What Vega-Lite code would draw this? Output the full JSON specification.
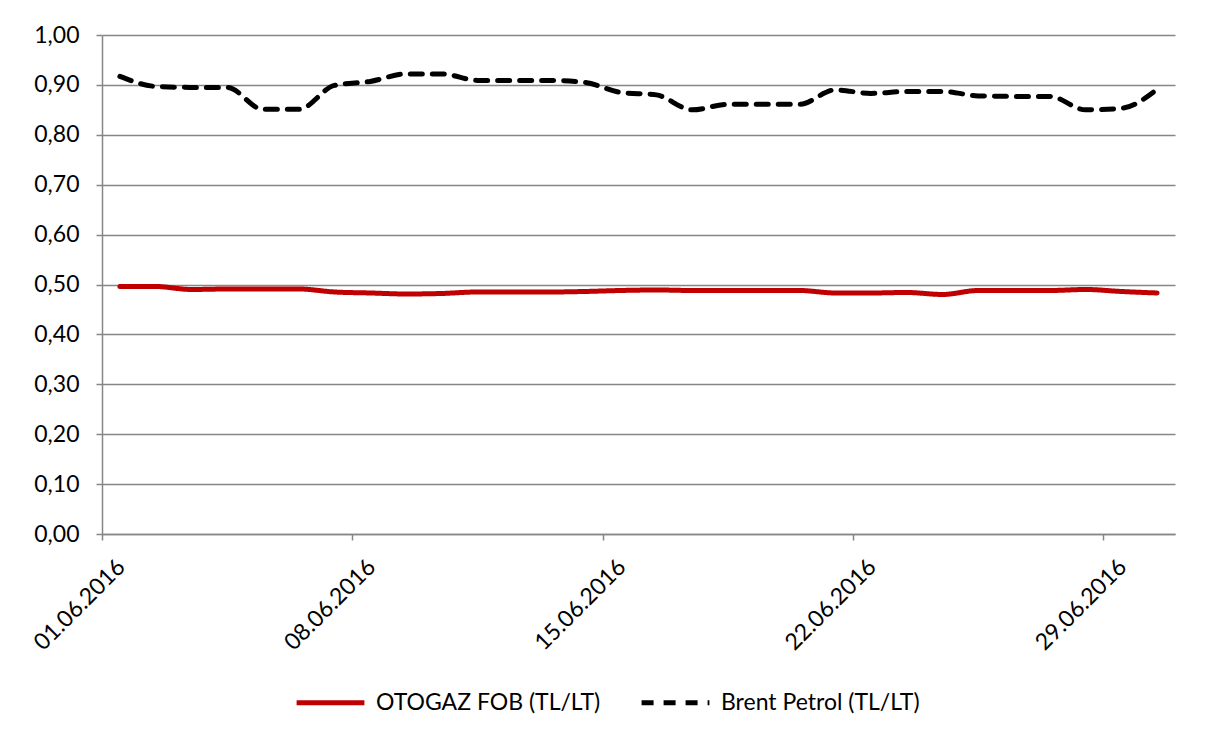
{
  "$schema": "https://vega.github.io/schema/vega-lite/v6.json",
  "width": 1073,
  "height": 499,
  "autosize": {"type": "none"},
  "padding": {"left": 102, "top": 35, "right": 33, "bottom": 201},
  "background": "white",
  "config": {"view": {"stroke": null}, "font": "Lato"},
  "data": {"values": [
    {"date": "2016-06-01", "series": "OTOGAZ FOB (TL/LT)", "value": 0.496},
    {"date": "2016-06-02", "series": "OTOGAZ FOB (TL/LT)", "value": 0.496},
    {"date": "2016-06-03", "series": "OTOGAZ FOB (TL/LT)", "value": 0.490},
    {"date": "2016-06-04", "series": "OTOGAZ FOB (TL/LT)", "value": 0.491},
    {"date": "2016-06-05", "series": "OTOGAZ FOB (TL/LT)", "value": 0.491},
    {"date": "2016-06-06", "series": "OTOGAZ FOB (TL/LT)", "value": 0.491},
    {"date": "2016-06-07", "series": "OTOGAZ FOB (TL/LT)", "value": 0.485},
    {"date": "2016-06-08", "series": "OTOGAZ FOB (TL/LT)", "value": 0.483},
    {"date": "2016-06-09", "series": "OTOGAZ FOB (TL/LT)", "value": 0.481},
    {"date": "2016-06-10", "series": "OTOGAZ FOB (TL/LT)", "value": 0.482},
    {"date": "2016-06-11", "series": "OTOGAZ FOB (TL/LT)", "value": 0.485},
    {"date": "2016-06-12", "series": "OTOGAZ FOB (TL/LT)", "value": 0.485},
    {"date": "2016-06-13", "series": "OTOGAZ FOB (TL/LT)", "value": 0.485},
    {"date": "2016-06-14", "series": "OTOGAZ FOB (TL/LT)", "value": 0.486},
    {"date": "2016-06-15", "series": "OTOGAZ FOB (TL/LT)", "value": 0.488},
    {"date": "2016-06-16", "series": "OTOGAZ FOB (TL/LT)", "value": 0.489},
    {"date": "2016-06-17", "series": "OTOGAZ FOB (TL/LT)", "value": 0.488},
    {"date": "2016-06-18", "series": "OTOGAZ FOB (TL/LT)", "value": 0.488},
    {"date": "2016-06-19", "series": "OTOGAZ FOB (TL/LT)", "value": 0.488},
    {"date": "2016-06-20", "series": "OTOGAZ FOB (TL/LT)", "value": 0.488},
    {"date": "2016-06-21", "series": "OTOGAZ FOB (TL/LT)", "value": 0.483},
    {"date": "2016-06-22", "series": "OTOGAZ FOB (TL/LT)", "value": 0.483},
    {"date": "2016-06-23", "series": "OTOGAZ FOB (TL/LT)", "value": 0.484},
    {"date": "2016-06-24", "series": "OTOGAZ FOB (TL/LT)", "value": 0.480},
    {"date": "2016-06-25", "series": "OTOGAZ FOB (TL/LT)", "value": 0.488},
    {"date": "2016-06-26", "series": "OTOGAZ FOB (TL/LT)", "value": 0.488},
    {"date": "2016-06-27", "series": "OTOGAZ FOB (TL/LT)", "value": 0.488},
    {"date": "2016-06-28", "series": "OTOGAZ FOB (TL/LT)", "value": 0.490},
    {"date": "2016-06-29", "series": "OTOGAZ FOB (TL/LT)", "value": 0.486},
    {"date": "2016-06-30", "series": "OTOGAZ FOB (TL/LT)", "value": 0.483},
    {"date": "2016-06-01", "series": "Brent Petrol (TL/LT)", "value": 0.917},
    {"date": "2016-06-02", "series": "Brent Petrol (TL/LT)", "value": 0.897},
    {"date": "2016-06-03", "series": "Brent Petrol (TL/LT)", "value": 0.895},
    {"date": "2016-06-04", "series": "Brent Petrol (TL/LT)", "value": 0.895},
    {"date": "2016-06-05", "series": "Brent Petrol (TL/LT)", "value": 0.851},
    {"date": "2016-06-06", "series": "Brent Petrol (TL/LT)", "value": 0.851},
    {"date": "2016-06-07", "series": "Brent Petrol (TL/LT)", "value": 0.899},
    {"date": "2016-06-08", "series": "Brent Petrol (TL/LT)", "value": 0.907},
    {"date": "2016-06-09", "series": "Brent Petrol (TL/LT)", "value": 0.922},
    {"date": "2016-06-10", "series": "Brent Petrol (TL/LT)", "value": 0.922},
    {"date": "2016-06-11", "series": "Brent Petrol (TL/LT)", "value": 0.909},
    {"date": "2016-06-12", "series": "Brent Petrol (TL/LT)", "value": 0.909},
    {"date": "2016-06-13", "series": "Brent Petrol (TL/LT)", "value": 0.909},
    {"date": "2016-06-14", "series": "Brent Petrol (TL/LT)", "value": 0.905},
    {"date": "2016-06-15", "series": "Brent Petrol (TL/LT)", "value": 0.885},
    {"date": "2016-06-16", "series": "Brent Petrol (TL/LT)", "value": 0.880},
    {"date": "2016-06-17", "series": "Brent Petrol (TL/LT)", "value": 0.850},
    {"date": "2016-06-18", "series": "Brent Petrol (TL/LT)", "value": 0.861},
    {"date": "2016-06-19", "series": "Brent Petrol (TL/LT)", "value": 0.861},
    {"date": "2016-06-20", "series": "Brent Petrol (TL/LT)", "value": 0.861},
    {"date": "2016-06-21", "series": "Brent Petrol (TL/LT)", "value": 0.890},
    {"date": "2016-06-22", "series": "Brent Petrol (TL/LT)", "value": 0.883},
    {"date": "2016-06-23", "series": "Brent Petrol (TL/LT)", "value": 0.887},
    {"date": "2016-06-24", "series": "Brent Petrol (TL/LT)", "value": 0.887},
    {"date": "2016-06-25", "series": "Brent Petrol (TL/LT)", "value": 0.878},
    {"date": "2016-06-26", "series": "Brent Petrol (TL/LT)", "value": 0.877},
    {"date": "2016-06-27", "series": "Brent Petrol (TL/LT)", "value": 0.877},
    {"date": "2016-06-28", "series": "Brent Petrol (TL/LT)", "value": 0.850},
    {"date": "2016-06-29", "series": "Brent Petrol (TL/LT)", "value": 0.853},
    {"date": "2016-06-30", "series": "Brent Petrol (TL/LT)", "value": 0.891}
  ]},
  "mark": {"type": "line", "interpolate": "monotone", "strokeWidth": 5, "strokeCap": "round", "strokeJoin": "round"},
  "encoding": {
    "x": {
      "field": "date",
      "timeUnit": "utcyearmonthdate",
      "type": "temporal",
      "bandPosition": 0.5,
      "scale": {"domain": [
        {"year": 2016, "month": 6, "date": 1, "utc": true},
        {"year": 2016, "month": 7, "date": 1, "utc": true}
      ]},
      "axis": {
        "title": null,
        "values": [
          {"year": 2016, "month": 6, "date": 1, "utc": true},
          {"year": 2016, "month": 6, "date": 8, "utc": true},
          {"year": 2016, "month": 6, "date": 15, "utc": true},
          {"year": 2016, "month": 6, "date": 22, "utc": true},
          {"year": 2016, "month": 6, "date": 29, "utc": true}
        ],
        "labelExpr": "utcFormat(datum.value, '%d.%m.%Y')",
        "labelAngle": -45,
        "labelAlign": "right",
        "labelBaseline": "middle",
        "labelOffset": 19,
        "labelPadding": 23,
        "labelFont": "Lato",
        "labelFontSize": 23,
        "labelColor": "#000000",
        "labelOverlap": false,
        "labelFlush": false,
        "grid": false,
        "domainColor": "#868686",
        "domainWidth": 1.5,
        "tickColor": "#868686",
        "tickWidth": 1.5,
        "tickSize": 6
      }
    },
    "y": {
      "field": "value",
      "type": "quantitative",
      "scale": {"domain": [0, 1], "nice": false, "zero": true},
      "axis": {
        "title": null,
        "values": [0, 0.1, 0.2, 0.3, 0.4, 0.5, 0.6, 0.7, 0.8, 0.9, 1.0],
        "labelExpr": "replace(format(datum.value, '.2f'), '.', ',')",
        "labelFont": "Lato",
        "labelFontSize": 23,
        "labelColor": "#000000",
        "labelPadding": 17,
        "labelFlush": false,
        "grid": true,
        "gridColor": "#868686",
        "gridWidth": 1.5,
        "domainColor": "#868686",
        "domainWidth": 1.5,
        "tickColor": "#868686",
        "tickWidth": 1.5,
        "tickSize": 6
      }
    },
    "color": {
      "field": "series",
      "type": "nominal",
      "sort": null,
      "scale": {"domain": ["OTOGAZ FOB (TL/LT)", "Brent Petrol (TL/LT)"], "range": ["#C00000", "#000000"]},
      "legend": {
        "orient": "none",
        "legendX": 192,
        "legendY": 631,
        "direction": "horizontal",
        "title": null,
        "symbolType": "stroke",
        "symbolSize": 4600,
        "symbolStrokeWidth": 5,
        "labelFont": "Lato",
        "labelFontSize": 23,
        "labelColor": "#000000",
        "labelOffset": 9,
        "labelLimit": 400,
        "columnPadding": 30
      }
    },
    "strokeDash": {
      "field": "series",
      "type": "nominal",
      "sort": null,
      "scale": {"domain": ["OTOGAZ FOB (TL/LT)", "Brent Petrol (TL/LT)"], "range": [[1, 0], [12, 10]]},
      "legend": {
        "orient": "none",
        "legendX": 192,
        "legendY": 631,
        "direction": "horizontal",
        "title": null,
        "symbolType": "stroke",
        "symbolSize": 4600,
        "symbolStrokeWidth": 5,
        "labelFont": "Lato",
        "labelFontSize": 23,
        "labelColor": "#000000",
        "labelOffset": 9,
        "labelLimit": 400,
        "columnPadding": 30
      }
    }
  }
}
